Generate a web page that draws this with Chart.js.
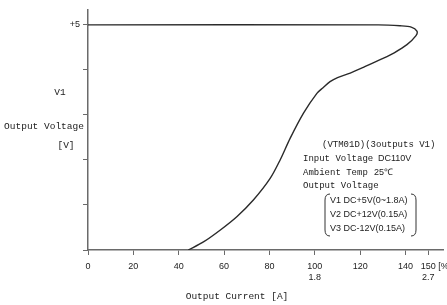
<!DOCTYPE html>
<html>
<head>
<meta charset="utf-8">
<script src="https://cdn.jsdelivr.net/npm/chart.js@4"></script>
<style>
  html, body { margin: 0; padding: 0; background: #fff; }
  #wrap { width: 447px; height: 305px; }
</style>
</head>
<body>
<div id="wrap"><canvas id="chart" width="447" height="305"></canvas></div>
<script>
// output current [%] vs V1 output voltage [V]
const currentPct = [0, 128, 137.6, 142.5, 145, 144.6, 140.6, 135, 130.3, 122, 115.6, 110, 106.7, 103.5, 100.9, 95, 89.1, 84.7, 80.3, 72.9, 65.6, 58.2, 50.9, 44.2];
const voltageV   = [5, 5, 4.98, 4.95, 4.86, 4.76, 4.56, 4.38, 4.26, 4.07, 3.93, 3.83, 3.74, 3.60, 3.48, 3.04, 2.48, 2.00, 1.59, 1.11, 0.74, 0.44, 0.18, 0];

const xTicks = [0, 20, 40, 60, 80, 100, 120, 140, 150];
const xAmps = { 100: '1.8', 150: '2.7' };
const yTicks = [0, 1, 2, 3, 4, 5];

const mono = '"Liberation Mono", "DejaVu Sans Mono", monospace';
const sans = '"Liberation Sans", Arial, sans-serif';
const axisColor = '#6a6a6a';

const textPlugin = {
    id: 'texts',
    afterDraw(chart) {
        const c = chart.ctx;
        const x = chart.scales.x;
        c.save();
        c.fillStyle = '#222';
        c.textBaseline = 'middle';

        // y axis title
        c.font = '9.5px ' + mono;
        c.textAlign = 'center';
        c.fillText('V1', 60, 92);
        c.fillText('Output Voltage', 44, 126);
        c.fillText('[V]', 66, 145);

        // x axis title + unit
        c.fillText('Output Current [A]', 237, 296);
        c.font = '9px ' + sans;
        c.textAlign = 'left';
        c.fillText('[%', x.getPixelForValue(150) + 10, 267);

        // condition notes
        c.font = '9px ' + mono;
        c.fillText('(VTM01D)(3outputs V1)', 322, 145);
        c.fillText('Input Voltage', 303, 159);
        c.fillText('Ambient Temp', 303, 173);
        c.fillText('Output Voltage', 303, 186);
        c.font = '9px ' + sans;
        c.fillText('DC110V', 378, 159);
        c.fillText('25\u2103', 374, 173);
        c.fillText('V1 DC+5V(0~1.8A)', 330, 201);
        c.fillText('V2 DC+12V(0.15A)', 330, 215);
        c.fillText('V3 DC-12V(0.15A)', 330, 229);

        // brackets
        c.strokeStyle = '#333';
        c.lineWidth = 1;
        c.beginPath();
        c.moveTo(330, 194); c.quadraticCurveTo(325, 194, 325, 200);
        c.lineTo(325, 230); c.quadraticCurveTo(325, 236, 330, 236);
        c.moveTo(411, 194); c.quadraticCurveTo(416, 194, 416, 200);
        c.lineTo(416, 230); c.quadraticCurveTo(416, 236, 411, 236);
        c.stroke();
        c.restore();
    }
};

new Chart(document.getElementById('chart'), {
    type: 'scatter',
    data: {
        datasets: [{
            data: currentPct.map((v, i) => ({ x: v, y: voltageV[i] })),
            showLine: true,
            borderColor: '#2a2a2a',
            borderWidth: 1.4,
            pointRadius: 0,
            tension: 0.3,
            fill: false
        }]
    },
    options: {
        responsive: false,
        animation: false,
        layout: { padding: { top: 10, right: 4, left: 0, bottom: 0 } },
        plugins: {
            legend: { display: false },
            tooltip: { enabled: false }
        },
        scales: {
            x: {
                type: 'linear',
                min: 0,
                max: 156.5,
                afterBuildTicks: s => { s.ticks = xTicks.map(v => ({ value: v })); },
                afterFit: s => { s.height = 55; },
                border: { color: axisColor, width: 1.5 },
                grid: { drawOnChartArea: false, drawTicks: true, tickLength: 5, tickColor: axisColor },
                ticks: {
                    color: '#222',
                    padding: 6,
                    maxRotation: 0,
                    autoSkip: false,
                    font: { family: sans, size: 9 },
                    callback: v => xAmps[v] ? [String(v), xAmps[v]] : String(v)
                }
            },
            y: {
                min: 0,
                max: 5.33,
                afterBuildTicks: s => { s.ticks = yTicks.map(v => ({ value: v })); },
                afterFit: s => { s.width = 88; },
                border: { color: axisColor, width: 1.5 },
                grid: { drawOnChartArea: false, drawTicks: true, tickLength: 5, tickColor: axisColor },
                ticks: {
                    color: '#222',
                    padding: 3,
                    font: { family: sans, size: 9 },
                    callback: v => v === 5 ? '+5' : ''
                }
            }
        }
    },
    plugins: [textPlugin]
});
</script>
</body>
</html>
